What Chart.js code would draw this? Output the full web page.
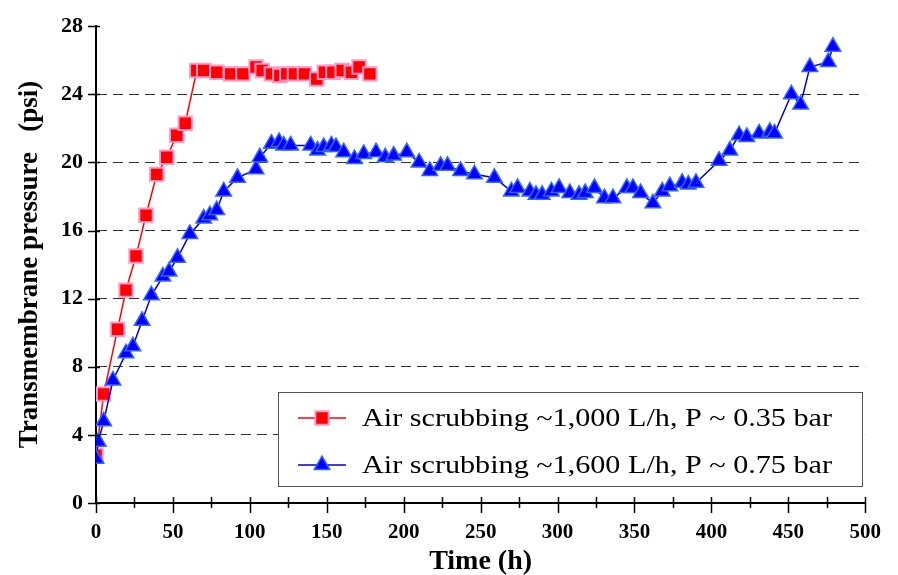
<!DOCTYPE html>
<html><head><meta charset="utf-8">
<script src="https://cdn.jsdelivr.net/npm/chart.js@4.4.0/dist/chart.umd.min.js"></script>
<style>html,body{margin:0;padding:0;background:#fff;}</style>
</head><body>
<canvas id="c" width="898" height="575"></canvas>
<script>
// ---- data ----
const redTime = [0, 5, 14, 19.5, 26, 32.5, 39.5, 46, 52.5, 58, 65.5, 70, 78.5, 87.5, 95.5, 104, 108, 114, 119.5, 124, 129, 135.5, 143.5, 148.5, 154, 160, 166, 171, 178];
const redTMP  = [2.8, 6.4, 10.2, 12.5, 14.5, 16.9, 19.3, 20.3, 21.6, 22.3, 25.4, 25.4, 25.3, 25.2, 25.2, 25.6, 25.4, 25.2, 25.1, 25.2, 25.2, 25.2, 24.9, 25.3, 25.3, 25.4, 25.3, 25.6, 25.2];
const blueTime = [0, 1.5, 5, 11, 19.5, 24, 30, 36, 43.5, 47.5, 53, 61, 70, 74, 78.5, 83, 92, 104, 106.5, 114, 119, 122, 126.5, 139.5, 144, 148, 153, 156, 161, 168, 174, 182, 188, 193.5, 202, 210, 217, 224, 228.5, 237, 246, 259, 270, 274, 282, 286, 290, 296, 301, 308, 314, 318, 324, 330.5, 336, 345, 349, 354, 362, 368, 373, 381, 385, 390, 405, 412, 418, 423, 431, 438, 441, 452, 458, 464, 476, 479];
const blueTMP  = [2.6, 3.6, 4.8, 7.2, 8.8, 9.2, 10.7, 12.2, 13.3, 13.6, 14.4, 15.8, 16.7, 16.9, 17.2, 18.3, 19.1, 19.6, 20.3, 21.1, 21.2, 21.0, 21.0, 21.0, 20.7, 20.9, 21.0, 20.9, 20.6, 20.2, 20.5, 20.6, 20.3, 20.4, 20.6, 20.0, 19.5, 19.8, 19.8, 19.5, 19.3, 19.1, 18.3, 18.5, 18.3, 18.1, 18.1, 18.3, 18.5, 18.2, 18.1, 18.2, 18.5, 17.9, 17.9, 18.5, 18.5, 18.2, 17.6, 18.3, 18.6, 18.8, 18.7, 18.8, 20.1, 20.7, 21.6, 21.5, 21.7, 21.8, 21.7, 24.0, 23.4, 25.6, 25.9, 26.8];
const seriesLabels = ["Air scrubbing ~1,000 L/h, P ~ 0.35 bar", "Air scrubbing ~1,600 L/h, P ~ 0.75 bar"];
const xTitle = "Time (h)";
const yTitle = "Transmembrane pressure   (psi)";
const xMin = 0, xMax = 500, xStep = 50, xMinorStep = 25;
const yMin = 0, yMax = 28, yStep = 4;

const SERIF = "'Liberation Serif', 'Times New Roman', serif";

const toPts = (xs, ys) => xs.map((v, i) => ({x: v, y: ys[i]}));

const styleRed  = {color: '#FF0000', fill: '#FF0000', border: '#FF99CC', shape: 'rect', radius: 9.5, bw: 2};
const styleBlue = {color: '#0000CC', fill: '#0000FF', border: '#3366FF', shape: 'triangle', radius: 9, bw: 1.5};

const ticksPlugin = {
  id: 'crossTicks',
  afterDraw(chart) {
    const {ctx, chartArea, scales: {x, y}} = chart;
    ctx.save();
    ctx.strokeStyle = '#000';
    ctx.lineWidth = 1.5;
    ctx.beginPath();
    for (let v = xMin; v <= xMax; v += xMinorStep) {
      const px = Math.round(x.getPixelForValue(v)) + 0.5;
      const major = v % xStep === 0;
      ctx.moveTo(px, chartArea.bottom - 6);
      ctx.lineTo(px, chartArea.bottom + (major ? 10 : 5));
    }
    for (let v = yMin; v <= yMax; v += yStep) {
      const py = Math.round(y.getPixelForValue(v)) + 0.5;
      ctx.moveTo(chartArea.left - 8, py);
      ctx.lineTo(chartArea.left + 4, py);
    }
    ctx.stroke();

    // legend box
    const bx = 278, by = 392, bw = 584, bh = 94;
    ctx.fillStyle = '#fff';
    ctx.fillRect(bx, by, bw, bh);
    ctx.strokeStyle = '#555';
    ctx.lineWidth = 1;
    ctx.strokeRect(bx + 0.5, by + 0.5, bw, bh);
    const rows = [[styleRed, 418], [styleBlue, 465]];
    rows.forEach(([st, yy], i) => {
      ctx.strokeStyle = st.color;
      ctx.lineWidth = 1.5;
      ctx.beginPath();
      ctx.moveTo(298, yy); ctx.lineTo(346, yy); ctx.stroke();
      ctx.fillStyle = st.fill;
      ctx.strokeStyle = st.border;
      ctx.lineWidth = st.bw;
      Chart.helpers.drawPoint(ctx, {pointStyle: st.shape, radius: st.radius, rotation: 0, borderWidth: st.bw}, 322, yy);
      ctx.fillStyle = '#000';
      ctx.font = '25px ' + SERIF;
      ctx.textBaseline = 'middle';
      ctx.textAlign = 'left';
      const label = chart.data.datasets[i].label;
      const w = ctx.measureText(label).width;
      const sx = 470 / w;
      ctx.save();
      ctx.translate(362, yy + 1);
      ctx.scale(sx, 1);
      ctx.fillText(label, 0, 0);
      ctx.restore();
    });
    ctx.restore();
  }
};

new Chart(document.getElementById('c'), {
  type: 'scatter',
  data: {
    datasets: [
      {
        label: seriesLabels[0], data: toPts(redTime, redTMP), showLine: true, order: 1,
        borderColor: styleRed.color, borderWidth: 1.5, backgroundColor: styleRed.fill,
        pointStyle: styleRed.shape, pointRadius: styleRed.radius, pointHoverRadius: styleRed.radius,
        pointBackgroundColor: styleRed.fill, pointBorderColor: styleRed.border, pointBorderWidth: styleRed.bw
      },
      {
        label: seriesLabels[1], data: toPts(blueTime, blueTMP), showLine: true, order: 0,
        borderColor: styleBlue.color, borderWidth: 1.5, backgroundColor: styleBlue.fill,
        pointStyle: styleBlue.shape, pointRadius: styleBlue.radius, pointHoverRadius: styleBlue.radius,
        pointBackgroundColor: styleBlue.fill, pointBorderColor: styleBlue.border, pointBorderWidth: styleBlue.bw
      }
    ]
  },
  options: {
    responsive: false,
    animation: false,
    layout: {padding: {top: 18, right: 32, left: 0, bottom: 0}},
    plugins: {legend: {display: false}, tooltip: {enabled: false}},
    scales: {
      x: {
        type: 'linear', min: xMin, max: xMax,
        afterFit(s) { s.height = 72; },
        ticks: {stepSize: xStep, color: '#000', padding: 17, maxRotation: 0, font: {family: SERIF, size: 21, weight: 'bold'}},
        grid: {display: false, drawTicks: false},
        border: {display: true, color: '#000', width: 2},
        title: {display: true, text: xTitle, color: '#000', padding: {top: 0, bottom: -4}, font: {family: SERIF, size: 28, weight: 'bold'}}
      },
      y: {
        min: yMin, max: yMax,
        afterFit(s) { s.width = 96; },
        ticks: {stepSize: yStep, color: '#000', padding: 13, font: {family: SERIF, size: 22, weight: 'bold'}},
        grid: {
          drawTicks: false, lineWidth: 1,
          color: (c) => (c.tick && (c.tick.value === yMin || c.tick.value === yMax)) ? 'rgba(0,0,0,0)' : '#333'
        },
        border: {display: true, color: '#000', width: 2, dash: [10, 6]},
        title: {display: true, text: yTitle, color: '#000', padding: {top: 14, bottom: 0}, font: {family: SERIF, size: 27, weight: 'bold'}}
      }
    }
  },
  plugins: [ticksPlugin]
});
</script>
</body></html>
